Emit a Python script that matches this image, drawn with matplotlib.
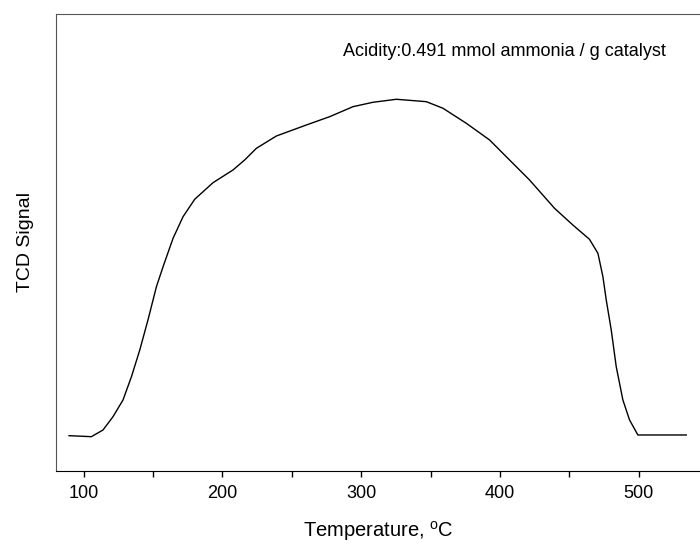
import matplotlib
matplotlib.use('Agg')
import matplotlib.pyplot as plt
from matplotlib.ticker import MultipleLocator

plt.rcParams['font.family'] = ['Liberation Sans', 'DejaVu Sans']

# TPD curve (temperature in degC, TCD signal in a.u.)
temperature = [89.4, 105.5, 113.9, 121.1, 128.3, 134.4, 140.4, 146.3, 152.4, 157.2,
               164.4, 171.6, 180.0, 193.2, 207.6, 216.0, 224.5, 238.9, 260.5, 277.3,
               294.1, 308.5, 325.4, 347.0, 359.0, 375.8, 392.6, 404.6, 421.4, 439.4,
               452.6, 464.6, 470.7, 474.3, 476.7, 480.3, 483.9, 488.7, 493.5, 499.5,
               534.4]
signal = [35.3, 34.3, 41.0, 54.3, 71.0, 94.3, 121.0, 151.0, 184.3, 204.3,
          232.7, 254.3, 271.7, 288.3, 301.0, 311.0, 322.7, 335.0, 346.0, 354.3,
          364.3, 368.7, 371.7, 369.3, 362.7, 347.7, 331.0, 314.3, 291.0, 262.7,
          246.0, 231.7, 217.7, 194.3, 171.0, 141.0, 104.3, 71.0, 51.0, 36.0,
          36.0]

note = 'Acidity:0.491 mmol ammonia / g catalyst'

fig = plt.figure(figsize=(7.0, 5.46), dpi=100)
ax = fig.add_axes((0.08, 0.1374, 0.9214, 0.837))

ax.plot(temperature, signal, color='black', lw=1.0)

ax.set_xlim(80, 545)
ax.set_ylim(0, 457)

ax.xaxis.set_major_locator(MultipleLocator(100))
ax.xaxis.set_minor_locator(MultipleLocator(50))
ax.tick_params(axis='x', which='both', direction='out', length=4, width=1,
               pad=6, labelsize=13)
ax.set_yticks([])

ax.spines['right'].set_visible(False)
for s in ('left', 'top'):
    ax.spines[s].set_color('#555555')
ax.spines['bottom'].set_color('black')

ax.set_xlabel('Temperature, $^\\mathregular{o}$C', fontsize=14.5, labelpad=12)
ax.set_ylabel('TCD Signal', fontsize=14, labelpad=16)

ax.text(0.445, 0.917, note, transform=ax.transAxes, fontsize=13,
        ha='left', va='center')

fig.savefig('out.png', dpi=100)
